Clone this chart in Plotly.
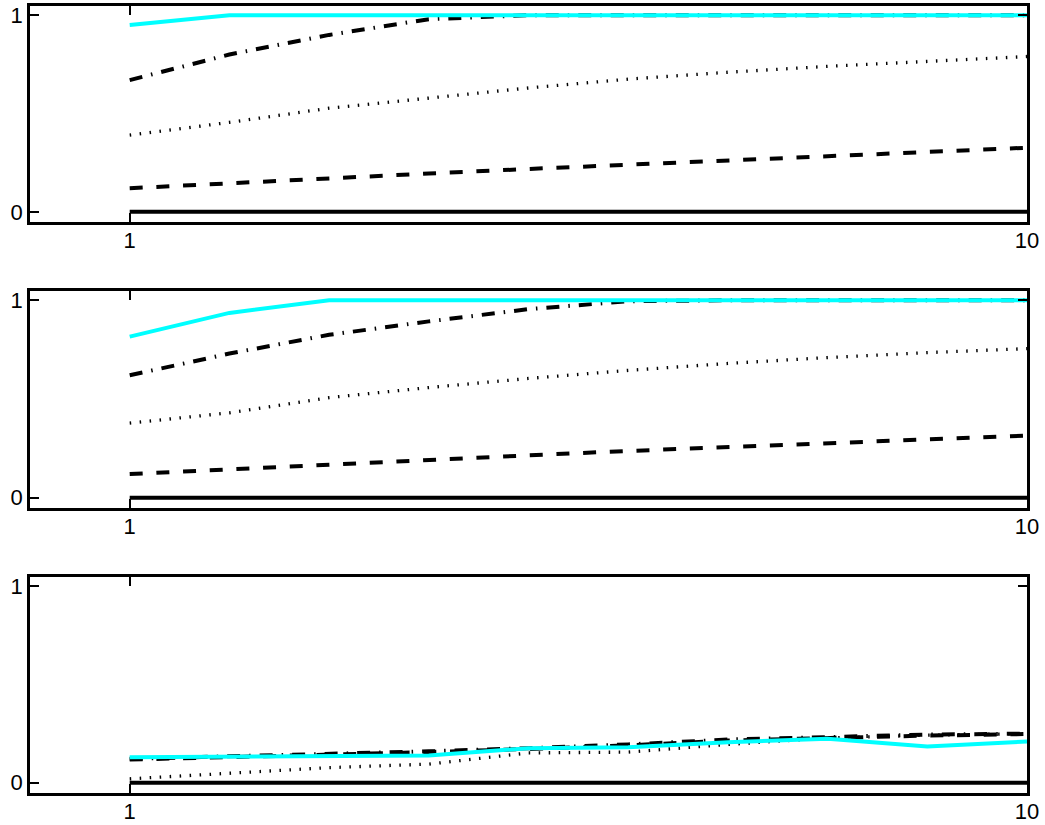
import plotly.graph_objects as go

x = [1, 2, 3, 4, 5, 6, 7, 8, 9, 10]

# Panel 1
p1_solid = [0, 0, 0, 0, 0, 0, 0, 0, 0, 0]
p1_dashed = [0.12, 0.146, 0.17, 0.195, 0.218, 0.24, 0.262, 0.283, 0.304, 0.326]
p1_dotted = [0.39, 0.455, 0.527, 0.58, 0.63, 0.675, 0.71, 0.74, 0.765, 0.79]
p1_dashdot = [0.67, 0.80, 0.90, 0.98, 1.0, 1.0, 1.0, 1.0, 1.0, 1.0]
p1_cyan = [0.95, 1.0, 1.0, 1.0, 1.0, 1.0, 1.0, 1.0, 1.0, 1.0]

# Panel 2
p2_solid = [0, 0, 0, 0, 0, 0, 0, 0, 0, 0]
p2_dashed = [0.12, 0.145, 0.17, 0.193, 0.215, 0.237, 0.257, 0.277, 0.296, 0.315]
p2_dotted = [0.378, 0.43, 0.507, 0.558, 0.604, 0.645, 0.68, 0.71, 0.735, 0.755]
p2_dashdot = [0.62, 0.73, 0.825, 0.893, 0.955, 0.995, 1.0, 1.0, 1.0, 1.0]
p2_cyan = [0.816, 0.936, 1.0, 1.0, 1.0, 1.0, 1.0, 1.0, 1.0, 1.0]

# Panel 3
p3_solid = [0, 0, 0, 0, 0, 0, 0, 0, 0, 0]
p3_dashed = [0.118, 0.13, 0.143, 0.156, 0.172, 0.19, 0.215, 0.23, 0.24, 0.248]
p3_dotted = [0.02, 0.05, 0.077, 0.095, 0.152, 0.156, 0.195, 0.228, 0.242, 0.25]
p3_dashdot = [0.122, 0.134, 0.147, 0.16, 0.176, 0.195, 0.22, 0.235, 0.245, 0.25]
p3_cyan = [0.13, 0.133, 0.136, 0.139, 0.176, 0.181, 0.206, 0.224, 0.185, 0.21]

x_ticks = [1, 10]
x_ticklabels = ["1", "10"]
y_ticks = [0, 1]
y_ticklabels = ["0", "1"]

panels = [
    (p1_solid, p1_dashed, p1_dotted, p1_dashdot, p1_cyan),
    (p2_solid, p2_dashed, p2_dotted, p2_dashdot, p2_cyan),
    (p3_solid, p3_dashed, p3_dotted, p3_dashdot, p3_cyan),
]

styles = [
    dict(color="black", width=4, dash="solid"),
    dict(color="black", width=4, dash="13px,13.7px"),
    dict(color="black", width=3.3, dash="1.5px,8.5px"),
    dict(color="black", width=4, dash="13px,9px,1.5px,9px"),
    dict(color="#00FFFF", width=4, dash="solid"),
]

domains = [[0.7255, 1.0], [0.3621, 0.6379], [0.0, 0.2745]]

fig = go.Figure()
font = dict(family="Arial, Liberation Sans, sans-serif", size=22, color="black")

for i, series in enumerate(panels):
    ax = "" if i == 0 else str(i + 1)
    for s, st in zip(series, styles):
        fig.add_trace(go.Scatter(x=x, y=s, mode="lines", line=st,
                                 xaxis="x" + ax, yaxis="y" + ax,
                                 showlegend=False, hoverinfo="skip"))
    common = dict(showline=True, linecolor="black", linewidth=2.5, mirror="ticks",
                  ticks="inside", ticklen=9, tickwidth=2, tickcolor="black",
                  showgrid=False, zeroline=False, tickfont=font, automargin=False)
    fig.layout["xaxis" + ax] = dict(range=[0, 10], tickvals=x_ticks, ticktext=x_ticklabels,
                                    anchor="y" + ax, domain=[0, 1], ticklabelstandoff=-3,
                                    **common)
    fig.layout["yaxis" + ax] = dict(range=[-0.052, 1.047], tickvals=y_ticks, ticktext=y_ticklabels,
                                    anchor="x" + ax, domain=domains[i], **common)

fig.update_layout(width=1045, height=825, margin=dict(l=30, r=18, t=6, b=32, autoexpand=False),
                  paper_bgcolor="white", plot_bgcolor="white", showlegend=False)

fig.write_html("out.html")
